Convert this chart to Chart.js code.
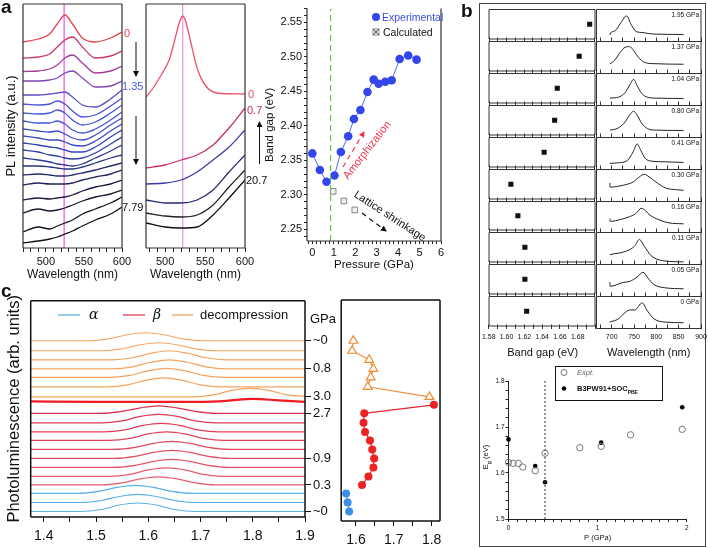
<!DOCTYPE html>
<html>
<head>
<meta charset="utf-8">
<script src="https://cdn.jsdelivr.net/npm/chart.js@4.4.1/dist/chart.umd.min.js"></script>
<style>
  html, body { margin: 0; padding: 0; background: #fff; }
  #fig { position: relative; width: 708px; height: 548px; overflow: hidden;
         font-family: 'Liberation Sans', Arial, sans-serif; color: #111; }
  #fig canvas { position: absolute; }
  .t { position: absolute; white-space: nowrap; line-height: 1; z-index: 6; }
  .lbl { font-weight: bold; font-size: 19px; }
  #ann { position: absolute; left: 0; top: 0; z-index: 5; }
</style>
</head>
<body>
<div id="fig">
  <div class="t lbl" style="left:1px;top:-3px">a</div>
  <div class="t lbl" style="left:461px;top:1px">b</div>
  <div class="t lbl" style="left:1px;top:281px">c</div>

  <!-- panel a labels -->
  <div class="t" style="left:124px;top:28px;font-size:11px;color:#e8404c">0</div>
  <div class="t" style="left:122px;top:81px;font-size:11px;color:#4a5cf0">1.35</div>
  <div class="t" style="left:122px;top:202px;font-size:11px;color:#111">7.79</div>
  <div class="t" style="left:248px;top:89px;font-size:11px;color:#ee4477">0</div>
  <div class="t" style="left:247px;top:105px;font-size:11px;color:#c8305a">0.7</div>
  <div class="t" style="left:246px;top:175px;font-size:11px;color:#111">20.7</div>
  <div class="t" style="left:382px;top:12px;font-size:10.5px;color:#3a4ee8">Experimental</div>
  <div class="t" style="left:383px;top:27px;font-size:10.5px;color:#111">Calculated</div>
  <div class="t" style="left:367px;top:150px;font-size:11px;color:#f0304a;transform:translate(-50%,-50%) rotate(-52deg)">Amorphization</div>
  <div class="t" style="left:390px;top:216px;font-size:11px;color:#111;transform:translate(-50%,-50%) rotate(33deg)">Lattice shrinkage</div>

  <!-- panel b frame and labels -->
  <div style="position:absolute;left:479px;top:3px;width:225px;height:542px;border:1px solid #444;"></div>
  <div id="bRowLbl"></div>
  <div style="position:absolute;left:555px;top:366px;width:106px;height:33px;border:1.5px solid #111;z-index:6;background:#fff"></div>
  <div class="t" style="left:577px;top:369px;font-size:7.5px;color:#666;font-style:italic">Expt.</div>
  <div class="t" style="left:577px;top:385px;font-size:7.5px;font-weight:bold">B3PW91+SOC<sub style="font-size:5px">PBE</sub></div>
  <div class="t" style="left:487px;top:457px;font-size:7.5px;transform:translate(-50%,-50%) rotate(-90deg)">E<sub style="font-size:5.5px">g</sub> (eV)</div>

  <!-- panel c labels -->
  <div class="t" style="left:89px;top:307px;font-size:14px;font-style:italic;font-family:'DejaVu Serif',serif">α</div>
  <div class="t" style="left:153px;top:307px;font-size:14px;font-style:italic;font-family:'DejaVu Serif',serif">β</div>
  <div class="t" style="left:200px;top:308px;font-size:13px">decompression</div>
  <div class="t" style="left:310px;top:312px;font-size:13px">GPa</div>

  <svg id="ann" width="708" height="548">
    <defs>
      <marker id="ah" markerWidth="6" markerHeight="6" refX="5" refY="3" orient="auto" markerUnits="userSpaceOnUse">
        <path d="M0,0 L6,3 L0,6 z" fill="#111"/></marker>
      <marker id="ahr" markerWidth="6" markerHeight="6" refX="5" refY="3" orient="auto" markerUnits="userSpaceOnUse">
        <path d="M0,0 L6,3 L0,6 z" fill="#f0304a"/></marker>
    </defs>
    <line x1="136" y1="42" x2="136" y2="76" stroke="#111" stroke-width="1" marker-end="url(#ah)"/>
    <line x1="136" y1="116" x2="136" y2="164" stroke="#111" stroke-width="1" marker-end="url(#ah)"/>
    <line x1="259.5" y1="164" x2="259.5" y2="122" stroke="#111" stroke-width="1" marker-end="url(#ah)"/>
    <line x1="343" y1="167" x2="364" y2="132" stroke="#f0304a" stroke-width="1.2" stroke-dasharray="5,4" marker-end="url(#ahr)"/>
    <line x1="362" y1="213" x2="386" y2="231" stroke="#111" stroke-width="1.2" stroke-dasharray="5,4" marker-end="url(#ah)"/>
    <circle cx="376" cy="17" r="4" fill="#3346ea"/>
    <rect x="373" y="29" width="6" height="6" fill="#eee" stroke="#888" stroke-width="1"/>
    <path d="M373,29 L379,35 M379,29 L373,35" stroke="#555" stroke-width="1"/>
    <line x1="58" y1="315" x2="80" y2="315" stroke="#5ab0e8" stroke-width="1.3"/>
    <line x1="123" y1="315" x2="145" y2="315" stroke="#e03c58" stroke-width="1.3"/>
    <line x1="172" y1="315" x2="193" y2="315" stroke="#f5a35e" stroke-width="1.3"/>
  </svg>
  <svg width="708" height="548" style="position:absolute;left:0;top:0;z-index:7">
    <circle cx="564" cy="372.5" r="3" fill="none" stroke="#777" stroke-width="1"/>
    <circle cx="564" cy="388.5" r="2.2" fill="#000"/>
  </svg>
</div>

<script>
// ── Panel a (left): PL spectra 0 → 7.79 GPa, stacked ──
const wlA1 = [470, 490, 505, 515, 525, 535, 548, 565, 585, 600];
const plA1 = [
  [206, 209, 214, 224, 233, 224, 210, 206, 210, 216],
  [190, 191, 194, 201, 208, 211, 201, 190, 192, 197],
  [176.5, 177, 179, 183, 190, 193, 185, 175, 177, 182],
  [167, 167, 168, 170, 175, 177, 170, 161, 162, 167],
  [153, 153, 154, 155, 156, 151, 143, 141, 149, 158],
  [144, 143, 144, 147, 144, 137, 131, 133, 142, 150],
  [135, 134, 135, 138, 135, 128, 123, 126, 135, 143],
  [127, 125, 125, 127, 124, 118, 115, 119, 128, 136],
  [119, 117, 116, 117, 114, 110, 108, 113, 123, 130],
  [112, 110, 108, 108, 106, 103, 102, 107, 117, 124],
  [105, 103, 101, 100, 98, 96, 96, 101, 111, 118],
  [98, 96, 93, 92, 90, 89, 90, 95, 104, 111],
  [90, 88, 86, 84, 83, 82, 84, 90, 97, 103],
  [82, 82, 81, 80, 79, 79, 81, 85, 90, 93],
  [73, 74, 73, 72, 72, 73, 75, 78, 82, 85],
  [63, 65, 64, 64, 64, 65, 68, 71, 74, 78],
  [48, 50, 49, 50, 51, 53, 57, 61, 64, 68],
  [35, 39, 37, 38, 40, 43, 47, 51, 54, 58],
  [16, 21, 19, 22, 25, 28, 34, 39, 45, 51],
  [5, 7, 9, 11, 14, 17, 22, 28, 34, 41],
];
const colA1 = ['#e8404c', '#c8386a', '#a23e92', '#7e44b4', '#5c4cc8', '#4a52d8', '#4456dc', '#4054d8',
  '#3c50d0', '#384ac4', '#3444b6', '#3040a6', '#2c3a94', '#283482', '#242c6c', '#202456',
  '#1c1c40', '#181830', '#141420', '#111111'];
const peakA1 = 524;

// ── Panel a (middle): decompression spectra ──
const wlA2red = [476, 485, 495, 505, 512, 518, 522, 526, 532, 540, 550, 565, 600];
const plA2red = [151, 160, 173, 188, 208, 226, 232, 226, 206, 180, 163, 155, 154];
const wlA2 = [476, 500, 520, 540, 560, 580, 600];
const plA2 = [
  [80, 83, 88, 93, 103, 120, 140],
  [64, 65, 68, 76, 88, 101, 118],
  [48, 45, 45, 48, 58, 76, 93],
  [35, 32, 31, 33, 43, 61, 78],
  [25, 21, 20, 21, 33, 50, 68],
];
const colA2 = ['#c8305a', '#3a3aa8', '#262a70', '#222', '#111'];
const peakA2 = 522;

// ── Panel a (right): band gap vs pressure ──
const pressExp = [0, 0.35, 0.66, 1.03, 1.33, 1.67, 1.94, 2.24, 2.57, 2.86, 3.09, 3.40, 3.70, 4.07, 4.47, 4.86];
const gapExp = [2.36, 2.336, 2.319, 2.328, 2.362, 2.385, 2.41, 2.423, 2.449, 2.467, 2.461, 2.464, 2.466, 2.497, 2.502, 2.496];
const pressCalc = [0.97, 1.47, 1.98];
const gapCalc = [2.305, 2.291, 2.278];
const pTransA = 0.85;

// ── Panel b: per-pressure band gap and PL spectra ──
const pressB = [1.95, 1.37, 1.04, 0.80, 0.41, 0.30, 0.16, 0.11, 0.05, 0];
const gapB = [1.695, 1.683, 1.658, 1.655, 1.643, 1.605, 1.613, 1.621, 1.621, 1.623];
const specB = [
  [[696, 0.20], [697, 0.26], [707, 0.33], [722, 0.62], [733, 0.80], [744, 0.52], [755, 0.31], [770, 0.28], [782, 0.25], [800, 0.23], [861, 0.22]],
  [[696, 0.30], [707, 0.42], [720, 0.68], [730, 0.82], [740, 0.84], [750, 0.70], [760, 0.50], [772, 0.36], [790, 0.31], [861, 0.29]],
  [[696, 0.23], [715, 0.26], [730, 0.40], [742, 0.68], [749, 0.82], [757, 0.62], [767, 0.38], [780, 0.26], [800, 0.23], [861, 0.22]],
  [[696, 0.23], [712, 0.28], [728, 0.45], [740, 0.70], [749, 0.82], [757, 0.70], [767, 0.45], [780, 0.28], [800, 0.23], [861, 0.22]],
  [[696, 0.19], [715, 0.21], [735, 0.28], [748, 0.55], [757, 0.80], [765, 0.60], [775, 0.35], [790, 0.26], [820, 0.24], [861, 0.22]],
  [[696, 0.58], [696.5, 0.45], [726, 0.51], [748, 0.61], [762, 0.77], [773, 0.85], [784, 0.77], [799, 0.61], [821, 0.42], [843, 0.37], [861, 0.35]],
  [[696, 0.45], [697, 0.36], [720, 0.42], [740, 0.51], [755, 0.62], [766, 0.78], [773, 0.74], [784, 0.58], [806, 0.41], [828, 0.31], [861, 0.28]],
  [[696, 0.31], [733, 0.42], [751, 0.57], [762, 0.78], [773, 0.57], [788, 0.28], [814, 0.12], [861, 0.08]],
  [[696, 0.45], [696.5, 0.32], [726, 0.44], [740, 0.47], [759, 0.63], [770, 0.76], [781, 0.58], [795, 0.37], [821, 0.27], [861, 0.24]],
  [[696, 0.20], [715, 0.30], [730, 0.50], [742, 0.58], [752, 0.58], [768, 0.80], [780, 0.55], [795, 0.30], [820, 0.20], [861, 0.18]],
];
const pressCalcB = [0, 0.30, 0.41, 1.04, 1.95];
const gapCalcB = [1.673, 1.615, 1.580, 1.666, 1.743];
const pTransB = 0.41;

// ── Panel c: stacked PL (α, β, decompression) ──
const cCurves = [
  [[1.375, 176], [1.485, 176], [1.525, 178], [1.56, 182], [1.595, 184], [1.63, 182], [1.665, 178], [1.705, 176], [1.9, 176]],
  [[1.375, 166], [1.51, 166], [1.55, 168], [1.585, 172], [1.62, 174], [1.655, 172], [1.69, 168], [1.73, 166], [1.9, 166]],
  [[1.375, 157], [1.53, 157], [1.57, 159], [1.605, 163.5], [1.64, 166], [1.675, 163.5], [1.71, 159], [1.75, 157], [1.9, 157]],
  [[1.375, 148], [1.53, 148], [1.57, 150], [1.605, 154.5], [1.64, 157], [1.675, 154.5], [1.71, 150], [1.75, 148], [1.9, 148]],
  [[1.375, 139.5], [1.525, 139.5], [1.565, 141.5], [1.6, 146], [1.635, 148.5], [1.67, 146], [1.705, 141.5], [1.745, 139.5], [1.9, 139.5]],
  [[1.375, 130], [1.52, 130], [1.56, 132], [1.595, 136.5], [1.63, 139], [1.665, 136.5], [1.7, 132], [1.74, 130], [1.9, 130]],
  [[1.375, 120], [1.685, 120], [1.725, 122], [1.76, 126.5], [1.795, 128.5], [1.83, 126.5], [1.865, 122], [1.9, 120.5]],
  [[1.375, 115.5], [1.5, 115], [1.7, 115], [1.75, 116], [1.8, 118], [1.85, 116.5], [1.9, 115]],
  [[1.375, 103.5], [1.51, 103.5], [1.55, 105.5], [1.585, 109], [1.62, 111], [1.655, 109], [1.69, 105.5], [1.73, 103.5], [1.9, 103.5]],
  [[1.375, 94], [1.51, 94], [1.55, 96], [1.585, 100.5], [1.62, 102.5], [1.655, 100.5], [1.69, 96], [1.73, 94], [1.9, 94]],
  [[1.375, 85], [1.515, 85], [1.555, 87], [1.59, 91.5], [1.625, 93.5], [1.66, 91.5], [1.695, 87], [1.735, 85], [1.9, 85]],
  [[1.375, 76.5], [1.525, 76.5], [1.565, 78.5], [1.6, 83], [1.635, 85], [1.67, 83], [1.705, 78.5], [1.745, 76.5], [1.9, 76.5]],
  [[1.375, 67.5], [1.535, 67.5], [1.575, 69.5], [1.61, 73.5], [1.645, 75.5], [1.68, 73.5], [1.715, 69.5], [1.755, 67.5], [1.9, 67.5]],
  [[1.375, 58.5], [1.535, 58.5], [1.575, 60.5], [1.61, 64.5], [1.645, 66.5], [1.68, 64.5], [1.715, 60.5], [1.755, 58.5], [1.9, 58.5]],
  [[1.375, 49.5], [1.535, 49.5], [1.575, 51.5], [1.61, 55.5], [1.645, 57.5], [1.68, 55.5], [1.715, 51.5], [1.755, 49.5], [1.9, 49.5]],
  [[1.375, 40.5], [1.525, 40.5], [1.565, 42.5], [1.6, 47], [1.635, 49], [1.67, 47], [1.705, 42.5], [1.745, 40.5], [1.9, 40.5]],
  [[1.375, 32], [1.51, 32], [1.55, 34], [1.585, 38], [1.62, 40], [1.655, 38], [1.69, 34], [1.73, 32], [1.9, 32]],
  [[1.375, 23.5], [1.465, 23.5], [1.505, 25.5], [1.54, 29.5], [1.575, 31.5], [1.61, 29.5], [1.645, 25.5], [1.685, 23.5], [1.9, 23.5]],
  [[1.375, 14.5], [1.47, 14.5], [1.51, 16.5], [1.545, 20.5], [1.58, 22.5], [1.615, 20.5], [1.65, 16.5], [1.69, 14.5], [1.9, 14.5]],
  [[1.375, 5.5], [1.47, 5.5], [1.51, 7.5], [1.545, 12], [1.58, 14], [1.615, 12], [1.65, 7.5], [1.69, 5.5], [1.9, 5.5]],
];
const cColors = ['#f5a35e', '#f5a35e', '#f5a35e', '#f5a35e', '#f5a35e', '#f5a35e', '#f5a35e', '#ee1c24',
  '#de3050', '#df3654', '#e03c58', '#e1425c', '#e24860', '#e34e64', '#e45468', '#e55a6c', '#e66070',
  '#5ab0e8', '#5ab0e8', '#5ab0e8'];
const cPressTicks = [176, 148, 120, 103.5, 58.5, 32, 5.5];
const cPressLabels = ['~0', '0.8', '3.0', '2.7', '0.9', '0.3', '~0'];

const sideAlphaE = [1.574, 1.578, 1.582];
const sideAlphaY = [23.5, 14.5, 5.5];
const sideBetaE = [1.616, 1.633, 1.646, 1.648, 1.643, 1.637, 1.624, 1.620, 1.622, 1.806];
const sideBetaY = [32, 40.5, 49.5, 58.5, 67.5, 76.5, 85, 94, 103.5, 112];
const sideDecE = [1.794, 1.631, 1.639, 1.646, 1.635, 1.590, 1.593];
const sideDecY = [120, 130, 139.5, 148, 157, 166, 176];

// ── Setup ──

Chart.defaults.font.family = "'Liberation Sans', Arial, sans-serif";
Chart.defaults.color = '#111';
Chart.defaults.animation = false;
Chart.defaults.responsive = false;
Chart.defaults.events = [];
Chart.defaults.plugins.legend.display = false;
Chart.defaults.plugins.tooltip.enabled = false;
Chart.defaults.elements.point.radius = 0;
Chart.defaults.elements.line.borderWidth = 1.2;

const frame = {
  id: 'frame',
  afterDatasetsDraw(chart, args, o) {
    if (!o || !o.sides) return;
    const { left, right, top, bottom } = chart.chartArea;
    const ctx = chart.ctx;
    ctx.save();
    ctx.strokeStyle = o.color || '#222';
    ctx.lineWidth = o.width || 1;
    ctx.beginPath();
    if (o.sides.includes('t')) { ctx.moveTo(left, top); ctx.lineTo(right, top); }
    if (o.sides.includes('b')) { ctx.moveTo(left, bottom); ctx.lineTo(right, bottom); }
    if (o.sides.includes('l')) { ctx.moveTo(left, top); ctx.lineTo(left, bottom); }
    if (o.sides.includes('r')) { ctx.moveTo(right, top); ctx.lineTo(right, bottom); }
    ctx.stroke();
    ctx.restore();
  }
};
Chart.register(frame);

const fig = document.getElementById('fig');
const fixH = px => s => { s.height = px; };
const fixW = px => s => { s.width = px; };
const pts = (xs, ys) => xs.map((x, i) => ({ x, y: ys[i] }));
const pairs = arr => arr.map(([x, y]) => ({ x, y }));

function mk(x, y, w, h, cfg) {
  const cv = document.createElement('canvas');
  cv.width = Math.round(w); cv.height = Math.round(h);
  cv.style.left = x + 'px'; cv.style.top = y + 'px';
  fig.appendChild(cv);
  cfg.options.devicePixelRatio = 1;
  return new Chart(cv, cfg);
}

function axis(o) {
  return {
    type: 'linear', min: o.min, max: o.max, position: o.pos,
    ticks: {
      display: o.labels !== false, stepSize: o.step, autoSkip: false, includeBounds: false, maxRotation: 0,
      padding: o.pad ?? 3, font: { size: o.fs || 11 }, color: '#111', callback: o.fmt,
    },
    grid: { drawOnChartArea: false, drawTicks: o.tick !== 0, tickLength: o.tick ?? 4, color: o.tc || '#222', lineWidth: 1 },
    border: { display: !!o.border, color: '#222', width: 1 },
    title: { display: !!o.title, text: o.title, font: { size: o.tfs || 11.5 }, padding: 0, color: '#111' },
    afterFit: o.h != null ? fixH(o.h) : fixW(o.w),
  };
}

const fmt50 = v => (v % 50 === 0 ? String(v) : '');
const fmtInt = v => (Math.abs(v - Math.round(v)) < 1e-6 ? String(Math.round(v)) : '');
const fmtTenth = v => (Math.round(v * 100) % 10 === 0 ? v.toFixed(1) : '');
const fmtGap = v => (Math.round(v * 100) % 2 === 0 && v < 1.69 ? v.toFixed(2) : '');
const line = (data, color, extra = {}) => Object.assign({ data, showLine: true, borderColor: color, borderWidth: 1.2, cubicInterpolationMode: 'monotone' }, extra);

// ── Panel a (left) ──
mk(0, 0, 140, 290, {
  type: 'scatter',
  data: { datasets: [
    ...plA1.map((ys, i) => line(pts(wlA1, ys), colA1[i], { borderWidth: 1.3 })),
    line(pts([peakA1, peakA1], [0, 244]), '#f050f0', { cubicInterpolationMode: 'default' }),
  ] },
  options: {
    layout: { padding: { left: 3.2, right: 18, top: 4, bottom: 7.8 } },
    scales: {
      x: axis({ min: 470, max: 600, step: 10, fmt: fmt50, title: 'Wavelength (nm)', tfs: 12, h: 34.2 }),
      y: axis({ min: 0, max: 244, labels: false, tick: 0, title: 'PL intensity (a.u.)', tfs: 13, w: 19.8 }),
    },
    plugins: { frame: { sides: 'lrtb', width: 1.2, color: '#333' } },
  },
});

// ── Panel a (middle) ──
mk(140, 0, 125, 290, {
  type: 'scatter',
  data: { datasets: [
    line(pts(wlA2red, plA2red), '#f0506a', { borderWidth: 1.3 }),
    ...plA2.map((ys, i) => line(pts(wlA2, ys), colA2[i], { borderWidth: 1.3 })),
    line(pts([peakA2, peakA2], [0, 244]), '#e890e8', { cubicInterpolationMode: 'default' }),
  ] },
  options: {
    layout: { padding: { left: 6, right: 20, top: 4, bottom: 7.8 } },
    scales: {
      x: axis({ min: 476, max: 600, step: 10, fmt: fmt50, title: 'Wavelength (nm)', tfs: 12, h: 34.2 }),
      y: { display: false, min: 0, max: 244 },
    },
    plugins: { frame: { sides: 'lrtb', width: 1.2, color: '#333' } },
  },
});

// ── Panel a (right) ──
mk(258, 0, 200, 276, {
  type: 'scatter',
  data: { datasets: [
    line(pts([pTransA, pTransA], [2.233, 2.57]), '#5cc83a', { borderDash: [6, 4], cubicInterpolationMode: 'default' }),
    { data: pts(pressExp, gapExp), showLine: true, borderColor: '#5566ee', borderWidth: 1,
      pointRadius: 4.3, pointBackgroundColor: '#3346ea', pointBorderWidth: 0 },
    { data: pts(pressCalc, gapCalc), pointStyle: 'rect', pointRadius: 4, pointBackgroundColor: '#eee', pointBorderColor: '#888', pointBorderWidth: 1 },
    { data: pts(pressCalc, gapCalc), pointStyle: 'crossRot', pointRadius: 3, pointBorderColor: '#555', pointBorderWidth: 1 },
  ] },
  options: {
    layout: { padding: { left: 5.1, right: 17, top: 4, bottom: 4.1 } },
    scales: {
      x: axis({ min: -0.25, max: 6, step: 0.2, fmt: fmtInt, tick: 3, pad: 2, title: 'Pressure (GPa)', h: 30.9 }),
      y: axis({ min: 2.233, max: 2.57, step: 0.01, tick: 3, pad: 2, title: 'Band gap (eV)', w: 43.9,
        fmt: v => (Math.round(v * 100) % 5 === 0 ? v.toFixed(2) : '') }),
    },
    plugins: { frame: { sides: 'lrb', width: 1.2, color: '#333' } },
  },
});

// ── Panel b: rows (ticks of each separator point up into the row above) ──
const rowLbl = document.getElementById('bRowLbl');
const rowTop = i => 9.5 + Math.round(i * 31.92);
const topTicks = (min, max, step, show) => ({
  type: 'linear', position: 'top', min, max,
  ticks: { display: false, stepSize: step, autoSkip: false, includeBounds: false },
  grid: { drawOnChartArea: false, drawTicks: show, tickLength: 4, color: '#333' },
  border: { display: false },
  afterFit: fixH(4),
});
pressB.forEach((p, i) => {
  const top = rowTop(i), rh = rowTop(i + 1) - top;
  const cellOpts = (min, max, step, padR) => ({
    layout: { padding: { left: 2.5, right: padR, top: 0.5, bottom: 1.5 } },
    scales: { x: topTicks(min, max, step, i > 0), y: { display: false, min: 0, max: 1 } },
    plugins: { frame: { sides: 'lrtb', width: 1, color: '#333' } },
  });
  mk(485, top - 4.5, 114, rh + 6, {
    type: 'scatter',
    data: { datasets: [{ data: [{ x: gapB[i], y: 0.5 }], pointStyle: 'rect', pointRadius: 3.6, pointBackgroundColor: '#111', pointBorderWidth: 0 }] },
    options: cellOpts(1.58, 1.7011, 0.01, 2.5),
  });
  mk(594, top - 4.5, 110, rh + 6, {
    type: 'scatter',
    data: { datasets: [line(pairs(specB[i]), '#222', { borderWidth: 1 })] },
    options: cellOpts(666, 900, 25, 3),
  });
  const d = document.createElement('div');
  d.className = 't';
  d.style.cssText = `right:9px;top:${top + 2.2}px;font-size:6.5px;`;
  d.textContent = (p === 0 ? '0' : p.toFixed(2)) + ' GPa';
  rowLbl.appendChild(d);
});
// bottom separator: upward ticks + tick labels + axis title
const strip = (x, w, padL, padR, min, max, step, fmt, title) => mk(x, 324, w, 36, {
  type: 'scatter',
  data: { datasets: [] },
  options: {
    layout: { padding: { left: padL, right: padR, top: 0.5, bottom: 0.5 } },
    scales: {
      x: topTicks(min, max, step, true),
      x2: {
        type: 'linear', position: 'bottom', min, max,
        ticks: { stepSize: step, autoSkip: false, includeBounds: false, maxRotation: 0, padding: 3, font: { size: 7 }, color: '#111', callback: fmt },
        grid: { drawOnChartArea: false, drawTicks: false },
        border: { display: false },
        title: { display: true, text: title, font: { size: 11 }, padding: 0, color: '#111' },
        afterFit: fixH(30),
      },
      y: { display: false, min: 0, max: 1 },
    },
  },
});
strip(479, 120, 8.5, 2.5, 1.58, 1.7011, 0.01, fmtGap, 'Band gap (eV)');
strip(594, 116, 2.5, 9, 666, 900, 25, fmt50, 'Wavelength (nm)');

// ── Panel b: Eg vs P ──
mk(490, 370, 210, 175, {
  type: 'scatter',
  data: { datasets: [
    line(pts([pTransB, pTransB], [1.5, 1.8]), '#333', { borderWidth: 1, borderDash: [2, 2], cubicInterpolationMode: 'default' }),
    { data: pts(pressB, gapB), clip: false, pointRadius: 3.2, pointBackgroundColor: 'rgba(0,0,0,0)', pointBorderColor: '#777', pointBorderWidth: 1 },
    { data: pts(pressCalcB, gapCalcB), clip: false, pointRadius: 2.3, pointBackgroundColor: '#000', pointBorderWidth: 0 },
  ] },
  options: {
    layout: { padding: { left: 4.5, right: 13.3, top: 11, bottom: 2.5 } },
    scales: {
      x: axis({ min: 0, max: 2, step: 0.1, fmt: fmtInt, fs: 6.5, tick: 3, pad: 2, border: true, title: 'P (GPa)', tfs: 7.5, h: 23.5 }),
      y: axis({ min: 1.5, max: 1.8, step: 0.02, fmt: fmtTenth, fs: 6.5, tick: 3, pad: 1, border: true, w: 14 }),
    },
  },
});

// ── Panel c: stacked PL ──
mk(0, 285, 345, 262, {
  type: 'scatter',
  data: { datasets: cCurves.map((c, i) => line(pairs(c), cColors[i], { borderWidth: i === 7 ? 2.2 : 1.2 })) },
  options: {
    layout: { padding: { left: 4.1, right: 0, top: 15.7, bottom: 0 } },
    scales: {
      x: axis({ min: 1.375, max: 1.9, step: 0.05, fmt: fmtTenth, fs: 14, tick: 5, pad: 6, tc: '#111', h: 30 }),
      y: axis({ min: 0, max: 216, labels: false, tick: 0, title: 'Photoluminescence (arb. units)', tfs: 16.5, w: 26.6 }),
      y2: Object.assign(axis({ min: 0, max: 216, pos: 'right', fs: 13, tick: 6, pad: 2, tc: '#111', w: 40,
        fmt: (v, i) => cPressLabels[i] }), {
        afterBuildTicks: s => { s.ticks = cPressTicks.map(v => ({ value: v })); },
      }),
    },
    plugins: { frame: { sides: 'lrtb', width: 1.5, color: '#111' } },
  },
});

// ── Panel c: peak energy side plot ──
mk(335, 290, 115, 257, {
  type: 'scatter',
  data: { datasets: [
    { data: pts(sideAlphaE, sideAlphaY), showLine: true, borderColor: '#4a9be8', borderWidth: 1.2, pointRadius: 4, pointBackgroundColor: '#3a8fe6', pointBorderWidth: 0 },
    { data: pts(sideBetaE, sideBetaY), showLine: true, borderColor: '#e8283a', borderWidth: 1.2, pointRadius: 4, pointBackgroundColor: '#ee2222', pointBorderWidth: 0 },
    { data: pts(sideDecE, sideDecY), showLine: true, borderColor: '#f09040', borderWidth: 1.2, pointRadius: 5, pointStyle: 'triangle',
      pointBackgroundColor: '#fff', pointBorderColor: '#f08a30', pointBorderWidth: 1.2 },
  ] },
  options: {
    layout: { padding: { left: 5, right: 10, top: 10, bottom: 0 } },
    scales: {
      x: axis({ min: 1.561, max: 1.822, step: 0.05, fmt: fmtTenth, fs: 14, tick: 5, pad: 6, tc: '#111', h: 26 }),
      y: { display: false, min: -4, max: 216.7 },
    },
    plugins: { frame: { sides: 'lrtb', width: 1.5, color: '#111' } },
  },
});
</script>
</body>
</html>
